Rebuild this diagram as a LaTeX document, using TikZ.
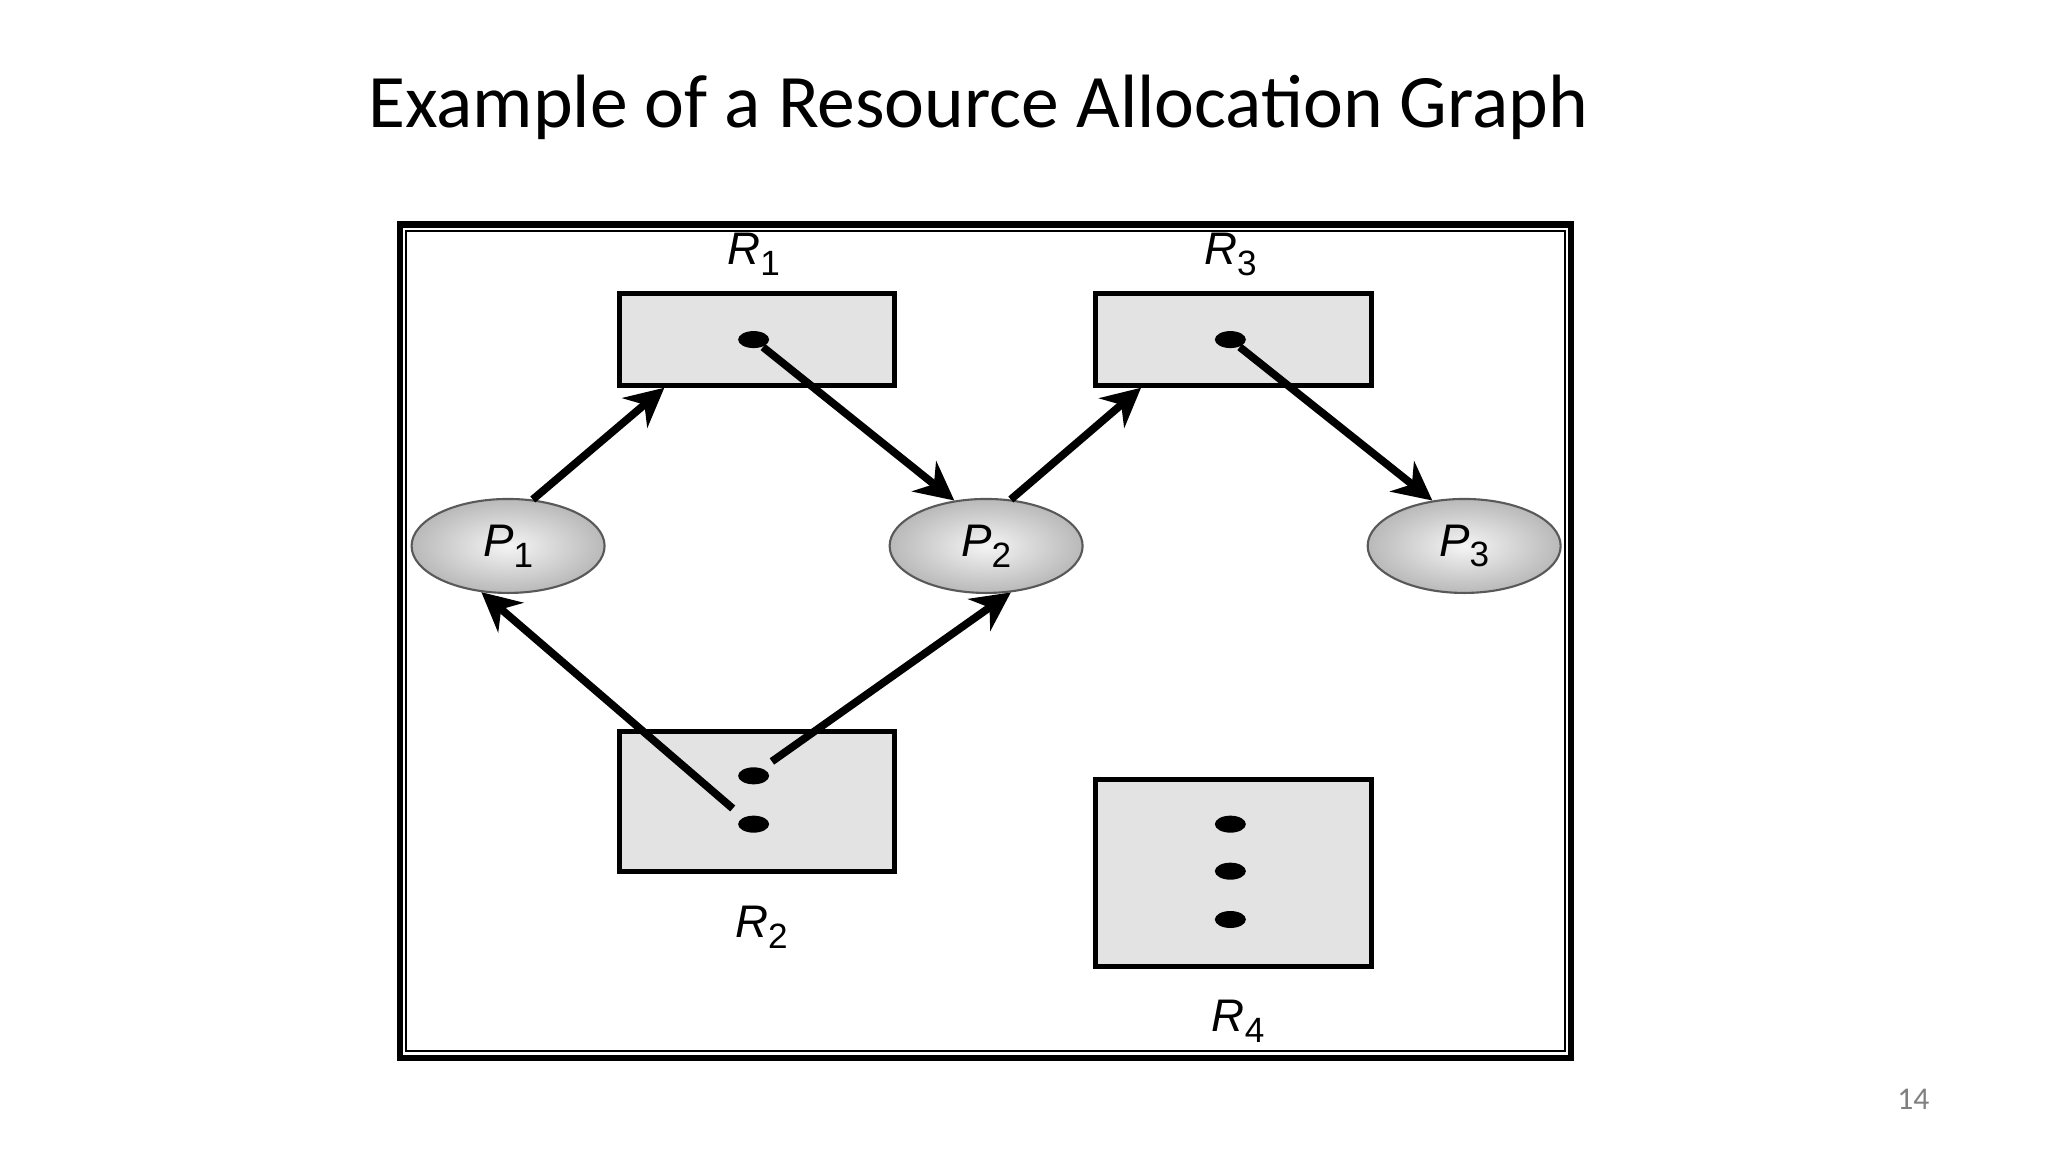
\documentclass[tikz,border=0pt]{standalone}
\usepackage{fontspec}
\setmainfont{Liberation Sans}
\newfontfamily\titlefont{Carlito}
\usetikzlibrary{shapes.geometric,arrows.meta,calc}
\tikzset{
    res/.style={rectangle, draw, line width=1.4pt, fill=gray!22, minimum width=2.756cm},
    proc/.style={ellipse, draw=gray!70!black, line width=0.6pt, minimum width=1.93cm, minimum height=0.94cm, inner color=gray!8, outer color=gray!55, font=\fontsize{13}{15}\selectfont},
    inst/.style={ellipse, fill=black, minimum width=0.31cm, minimum height=0.17cm, inner sep=0pt},
    lbl/.style={font=\fontsize{13}{15}\selectfont},
    line/.style={draw, line width=2.2pt, -{Stealth[length=11pt, width=11pt]}}
}
\newcommand{\rname}[2]{\textit{#1}\raisebox{-0.45ex}{\fontsize{10}{12}\selectfont #2}}
\begin{document}
\begin{tikzpicture}[x=0.01306cm, y=-0.01306cm]
    \useasboundingbox (0,0) rectangle (1568,884);
    % Title
    \node [font=\titlefont\fontsize{21.5}{26}\selectfont] (title) at (749,82) {Example of a Resource Allocation Graph};
    % Frame
    \draw [line width=1.8pt] (306,172) rectangle (1203,810);
    \draw [line width=0.6pt] (311,177) rectangle (1198,805);
    % Resources
    \node [res, minimum height=0.914cm] (r1) at (579.5,260) {};
    \node [res, minimum height=0.914cm] (r3) at (944.5,260) {};
    \node [res, minimum height=1.397cm] (r2) at (579.5,613.5) {};
    \node [res, minimum height=1.868cm] (r4) at (944.5,668.5) {};
    \node [inst] (r1a) at (577,260) {};
    \node [inst] (r3a) at (942,260) {};
    \node [inst] (r2a) at (577,594) {};
    \node [inst] (r2b) at (577,631) {};
    \node [inst] (r4a) at (942,631) {};
    \node [inst] (r4b) at (942,667) {};
    \node [inst] (r4c) at (942,704) {};
    \node [lbl] at (577,195) {\rname{R}{1}};
    \node [lbl] at (942,195) {\rname{R}{3}};
    \node [lbl] at (583,710) {\rname{R}{2}};
    \node [lbl] at (948,782) {\rname{R}{4}};
    % Processes
    \node [proc] (p1) at (389,418) {\rname{P}{1}};
    \node [proc] (p2) at (755,418) {\rname{P}{2}};
    \node [proc] (p3) at (1121,418) {\rname{P}{3}};
    % Edges
    \path [line] (p1.62) -- ($(r1.south west)!0.17!(r1.south east)$);
    \path [line] (r1a) -- (p2.125);
    \path [line] (p2.62) -- ($(r3.south west)!0.17!(r3.south east)$);
    \path [line] (r3a) -- (p3.125);
    \path [line] ([shift={(-16,-12)}]r2b.center) -- (p1.240);
    \path [line] ([shift={(14,-11)}]r2a.center) -- (p2.298);
    % Page number
    \node [font=\titlefont\small, text=gray] (page) at (1465,842) {14};
\end{tikzpicture}
\end{document}
